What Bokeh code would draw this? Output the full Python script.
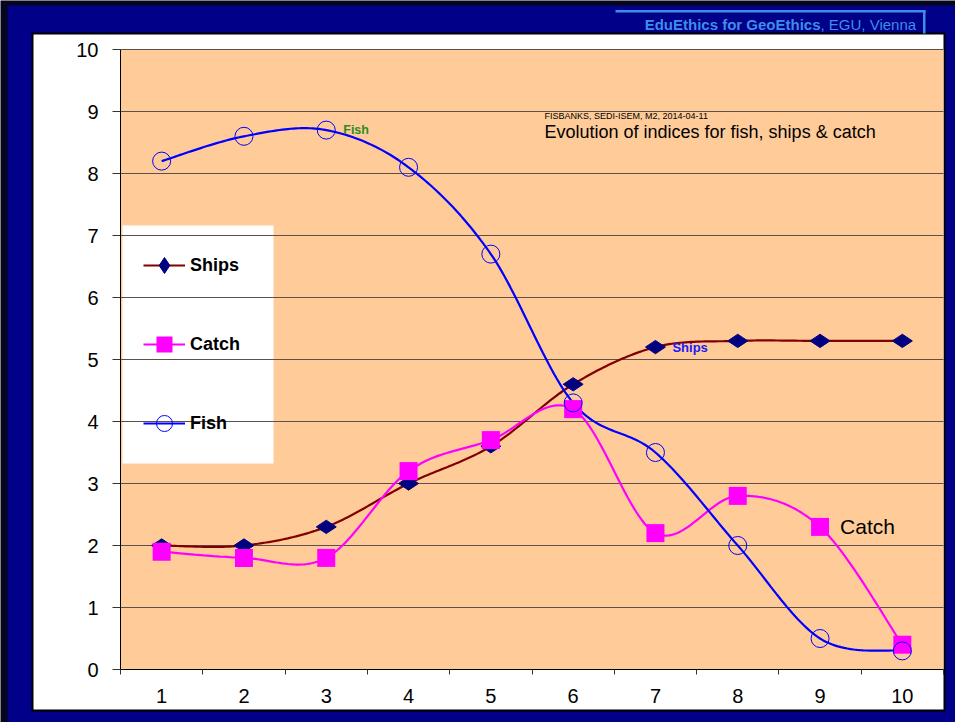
import numpy as np
from bokeh.plotting import figure
from bokeh.models import (BoxAnnotation, Label, Legend, LegendItem, FixedTicker, Range1d)
from bokeh.core.properties import value
from bokeh.embed import file_html
from bokeh.resources import INLINE

# ---------------- data ----------------
periods = [1, 2, 3, 4, 5, 6, 7, 8, 9, 10]
ships = [2.0, 2.0, 2.3, 3.0, 3.6, 4.6, 5.2, 5.3, 5.3, 5.3]
catch = [1.9, 1.8, 1.8, 3.2, 3.7, 4.2, 2.2, 2.8, 2.3, 0.4]
fish = [8.2, 8.6, 8.7, 8.1, 6.7, 4.3, 3.5, 2.0, 0.5, 0.3]
y_ticks = [0, 1, 2, 3, 4, 5, 6, 7, 8, 9, 10]
series_names = ["Ships", "Catch", "Fish"]
note_line1 = "FISBANKS, SEDI-ISEM, M2, 2014-04-11"
note_line2 = "Evolution of indices for fish, ships & catch"
header_bold = "EduEthics for GeoEthics"
header_rest = ", EGU, Vienna"

FONT = "Liberation Sans"
NAVY = "#000088"
PEACH = "#ffcc99"
HB = "#3e8ee8"

# ---------------- layout (pixels) ----------------
W, H = 955, 722
PL, PR, PT, PB = 120, 943, 49, 669      # plot-area edges on the canvas
XLO, XHI = periods[0] - 0.5, periods[-1] + 0.5
YLO, YHI = y_ticks[0], y_ticks[-1]
ux = (PR - PL) / (XHI - XLO)
uy = (PB - PT) / (YHI - YLO)
x_start = XLO - PL / ux
x_end = x_start + W / ux
y_end = YHI + PT / uy
y_start = y_end - H / uy


def X(px):
    return x_start + px / ux


def Y(py):
    return y_end - py / uy


def smooth(xs, ys, n=30):
    """Excel-style smoothed line (Bezier through the data points)."""
    xs = np.asarray(xs, float)
    ys = np.asarray(ys, float)
    px = np.concatenate([[xs[0]], xs, [xs[-1]]])
    py = np.concatenate([[ys[0]], ys, [ys[-1]]])
    ox, oy = [xs[0]], [ys[0]]
    t = np.linspace(0, 1, n + 1)[1:]
    for i in range(len(xs) - 1):
        p0 = np.array([px[i], py[i]])
        p1 = np.array([px[i + 1], py[i + 1]])
        p2 = np.array([px[i + 2], py[i + 2]])
        p3 = np.array([px[i + 3], py[i + 3]])
        c1 = p1 + (p2 - p0) / 6.0
        c2 = p2 - (p3 - p1) / 6.0
        b = ((1 - t) ** 3)[:, None] * p1 + (3 * (1 - t) ** 2 * t)[:, None] * c1 \
            + (3 * (1 - t) * t ** 2)[:, None] * c2 + (t ** 3)[:, None] * p2
        ox.extend(b[:, 0])
        oy.extend(b[:, 1])
    return ox, oy


p = figure(width=W, height=H, output_backend="svg", toolbar_location=None,
           x_range=Range1d(x_start, x_end), y_range=Range1d(y_start, y_end),
           min_border=0, min_border_left=0, min_border_right=0,
           min_border_top=0, min_border_bottom=0)
p.border_fill_color = "#05051c"
p.background_fill_color = "#05051c"
p.outline_line_color = None


def pbox(l, r, t, b, fill, line=None, lw=0):
    bx = BoxAnnotation(left=X(l), right=X(r), top=Y(t), bottom=Y(b),
                       fill_color=fill, fill_alpha=1.0 if fill else 0.0,
                       line_color=line, line_width=lw, line_alpha=1.0 if line else 0.0,
                       level="image", editable=False)
    p.add_layout(bx)


# slide background, white panel, plot area
pbox(7, W + 2, 5, H + 2, NAVY)
pbox(32, 944, 33, 710, "white", "black", 2)
pbox(PL, PR, PT, PB, PEACH)
# legend box
pbox(122, 273, 225, 463, "white")
# header bar
pbox(615, 925, 9.5, 12, HB)
pbox(922.5, 925, 9.5, 33, HB)

p.add_layout(Label(x=X(820), y=Y(24), text=header_bold,
                   text_align="right", text_baseline="alphabetic",
                   text_font=FONT, text_font_style="bold",
                   text_font_size="15px", text_color=HB))
p.add_layout(Label(x=X(820), y=Y(24), text=header_rest,
                   text_align="left", text_baseline="alphabetic",
                   text_font=FONT, text_font_style="normal",
                   text_font_size="15px", text_color=HB))

# grid lines
p.xgrid.visible = False
p.ygrid.visible = False
p.segment(x0=XLO, x1=XHI, y0=y_ticks[1:], y1=y_ticks[1:],
          line_color="#5c5048", line_width=1)

# axes at fixed positions
p.yaxis.fixed_location = XLO
p.yaxis.bounds = (YLO, YHI)
p.yaxis.ticker = FixedTicker(ticks=y_ticks)
p.yaxis.major_tick_out = 8
p.yaxis.major_tick_in = 0
p.yaxis.minor_tick_out = 0
p.yaxis.minor_tick_in = 0
p.yaxis.axis_line_color = "black"
p.yaxis.major_tick_line_color = "#333333"
p.yaxis.major_label_text_font = FONT
p.yaxis.major_label_text_font_size = "20px"
p.yaxis.major_label_text_color = "black"
p.yaxis.major_label_standoff = 14

p.xaxis.fixed_location = YLO
p.xaxis.bounds = (XLO, XHI)
p.xaxis.ticker = FixedTicker(ticks=periods,
                             minor_ticks=[v - 0.5 for v in periods] + [periods[-1] + 0.5])
p.xaxis.major_tick_out = 0
p.xaxis.major_tick_in = 0
p.xaxis.minor_tick_out = 5
p.xaxis.minor_tick_in = 0
p.xaxis.minor_tick_line_color = "#333333"
p.xaxis.axis_line_color = "black"
p.xaxis.major_label_text_font = FONT
p.xaxis.major_label_text_font_size = "20px"
p.xaxis.major_label_text_color = "black"
p.xaxis.major_label_standoff = 14

# series
sx, sy = smooth(periods, ships)
cx, cy = smooth(periods, catch)
fx, fy = smooth(periods, fish)

l_ships = p.line(sx, sy, line_color="#800000", line_width=2.2)
l_catch = p.line(cx, cy, line_color="#ff00ff", line_width=2.2)
l_fish = p.line(fx, fy, line_color="#0000ff", line_width=2.2)

m_ships = p.scatter(periods, ships, marker="diamond", size=20, angle=np.pi / 2,
                    fill_color="#000080", line_color="#000080")
m_catch = p.scatter(periods, catch, marker="square", size=18,
                    fill_color="#ff00ff", line_color=None)
m_fish = p.scatter(periods, fish, marker="circle", size=18,
                   fill_color=None, line_color="#0000ff", line_width=1)

# data labels attached to points
p.text(x=[periods[2]], y=[fish[2]], text=["Fish"], x_offset=17,
       text_font=value(FONT), text_font_style="bold", text_font_size="12.5px",
       text_color="#2e8b22", text_baseline="middle", text_align="left")
p.text(x=[periods[6]], y=[ships[6]], text=["Ships"], x_offset=17,
       text_font=value(FONT), text_font_style="bold", text_font_size="13px",
       text_color="#1a1aff", text_baseline="middle", text_align="left")
p.text(x=[periods[8]], y=[catch[8]], text=["Catch"], x_offset=20,
       text_font=value(FONT), text_font_size="21px",
       text_color="black", text_baseline="middle", text_align="left")

# note
p.add_layout(Label(x=X(544), y=Y(115), text=note_line1, text_baseline="middle",
                   text_font=FONT, text_font_size="9px", text_color="black"))
p.add_layout(Label(x=X(544), y=Y(131), text=note_line2, text_baseline="middle",
                   text_font=FONT, text_font_size="18px", text_color="black"))

legend = Legend(items=[
    LegendItem(label=series_names[0], renderers=[l_ships, m_ships]),
    LegendItem(label=series_names[1], renderers=[l_catch, m_catch]),
    LegendItem(label=series_names[2], renderers=[l_fish, m_fish]),
], location=(143, H - 443), padding=0, spacing=39, glyph_width=42, glyph_height=40,
    label_height=40, label_width=60, label_standoff=5, margin=0,
    background_fill_alpha=0.0, border_line_color=None,
    label_text_font=FONT, label_text_font_style="bold",
    label_text_font_size="18px", label_text_color="black")
p.add_layout(legend)

open("out.html", "w").write(file_html(p, INLINE))
